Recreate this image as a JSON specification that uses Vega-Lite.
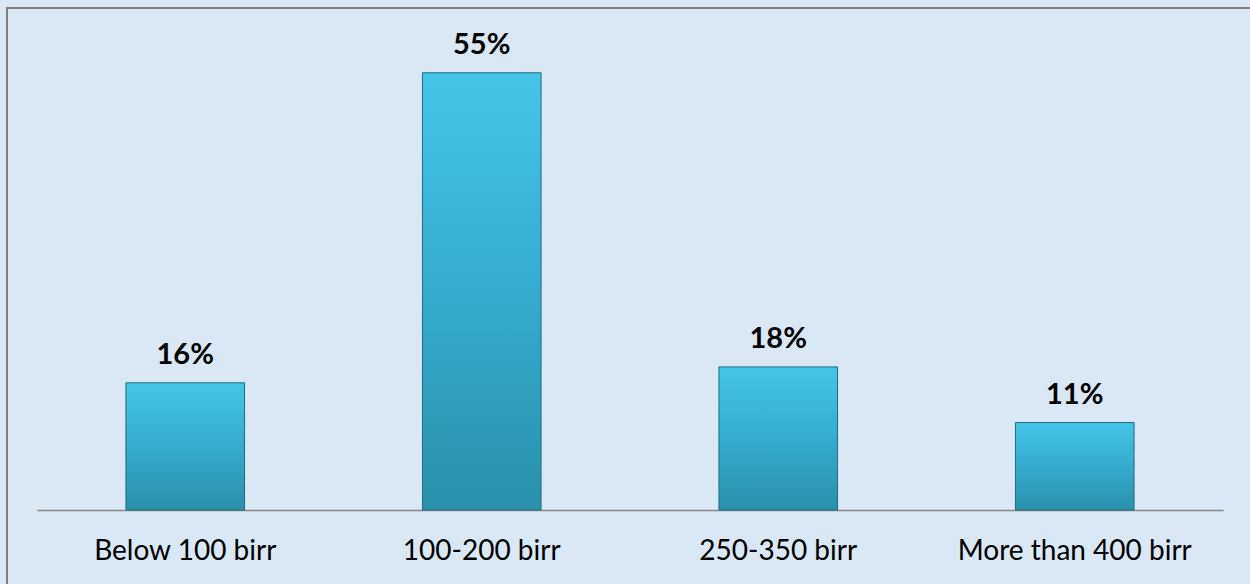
{
  "$schema": "https://vega.github.io/schema/vega-lite/v6.json",
  "width": 1246,
  "height": 579,
  "autosize": {"type": "none"},
  "padding": {"left": 7, "top": 8, "right": -3, "bottom": -3},
  "background": "#dae7f5",
  "config": {
    "view": {"stroke": "#7f7f7f", "strokeWidth": 2, "fill": "#dae7f5"},
    "font": "Lato"
  },
  "data": {
    "values": [
      {"range": "Below 100 birr", "share": 0.16},
      {"range": "100-200 birr", "share": 0.55},
      {"range": "250-350 birr", "share": 0.18},
      {"range": "More than 400 birr", "share": 0.11}
    ]
  },
  "encoding": {
    "x": {
      "field": "range",
      "type": "nominal",
      "sort": null,
      "scale": {"range": [30, 1216], "paddingInner": 0.6, "paddingOuter": 0.3},
      "axis": {
        "title": null,
        "labelAngle": 0,
        "labelFontSize": 28,
        "labelLimit": 0,
        "labelColor": "#000000",
        "labelPadding": 27,
        "ticks": false,
        "domainColor": "#868686",
        "domainWidth": 1.5,
        "offset": -77,
        "grid": false
      }
    },
    "y": {
      "field": "share",
      "type": "quantitative",
      "scale": {"domain": [0, 0.595], "range": [502, 29]},
      "axis": null
    }
  },
  "layer": [
    {
      "mark": {
        "type": "bar",
        "stroke": "#1e6c7e",
        "strokeWidth": 1,
        "color": {
          "gradient": "linear",
          "x1": 0, "y1": 0, "x2": 0, "y2": 1,
          "stops": [
            {"offset": 0, "color": "#45c5e9"},
            {"offset": 0.5, "color": "#35abcf"},
            {"offset": 1, "color": "#2a91ab"}
          ]
        }
      }
    },
    {
      "mark": {
        "type": "text",
        "baseline": "alphabetic",
        "dy": -19,
        "fontSize": 29,
        "fontWeight": "bold",
        "color": "#000000"
      },
      "encoding": {
        "text": {"field": "share", "type": "quantitative", "format": ".0%"}
      }
    }
  ]
}
